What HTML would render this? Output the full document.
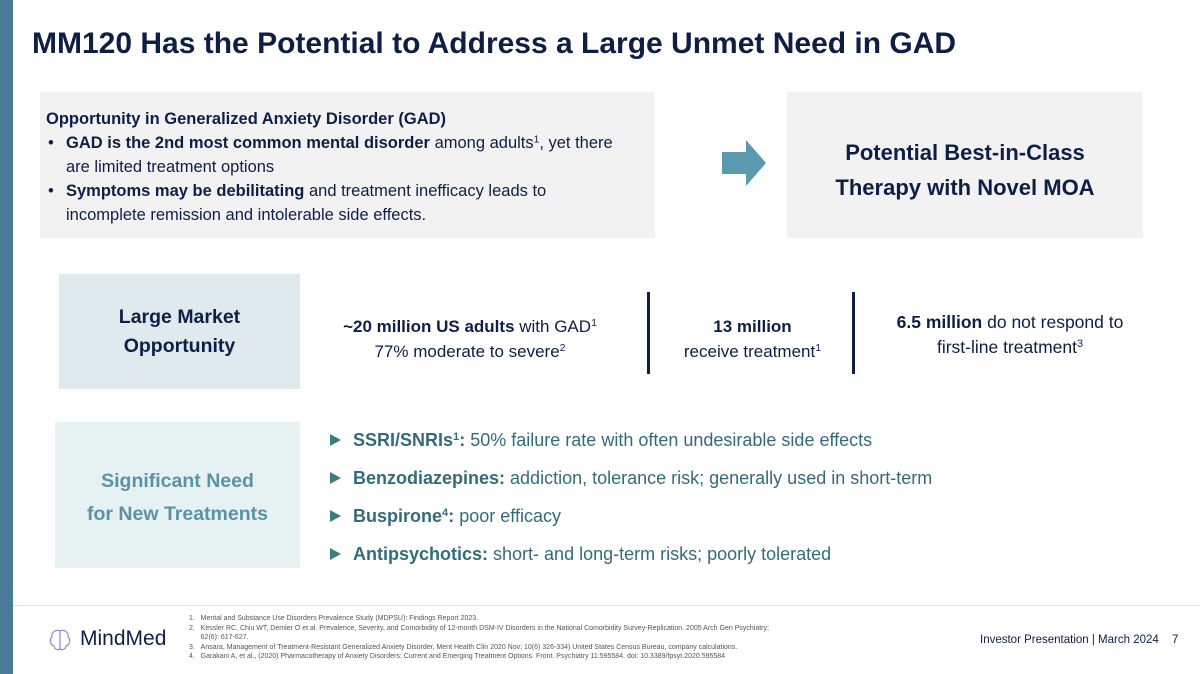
<!DOCTYPE html>
<html><head><meta charset="utf-8"><style>
*{margin:0;padding:0;box-sizing:border-box}
body{width:1200px;height:674px;position:relative;background:#fff;font-family:"Liberation Sans",sans-serif;overflow:hidden;color:#0d1f45}
.a{position:absolute}
sup{font-size:0.62em;vertical-align:0.55em;line-height:0}
.c{text-align:center}
.tri{display:inline-block;width:0;height:0;border-top:6px solid transparent;border-bottom:6px solid transparent;border-left:11px solid #3a7f80;margin-right:12px;vertical-align:0px}
</style></head><body>
<div class="a" style="left:0;top:0;width:13px;height:674px;background:#4a7a9a"></div>
<div class="a" style="left:32px;top:27px;font-size:30px;font-weight:bold;color:#0d1f45;white-space:nowrap">MM120 Has the Potential to Address a Large Unmet Need in GAD</div>

<div class="a" style="left:40px;top:92px;width:615px;height:146px;background:#f2f2f2"></div>
<div class="a" style="left:46px;top:107px;width:610px;font-size:16.5px;line-height:24px;color:#0d1f45;white-space:nowrap">
<div style="font-weight:bold">Opportunity in Generalized Anxiety Disorder (GAD)</div>
<div style="padding-left:20px;position:relative"><span class="a" style="left:2px">•</span><b>GAD is the 2nd most common mental disorder</b> among adults<sup>1</sup>, yet there<br>are limited treatment options</div>
<div style="padding-left:20px;position:relative"><span class="a" style="left:2px">•</span><b>Symptoms may be debilitating</b> and treatment inefficacy leads to<br>incomplete remission and intolerable side effects.</div>
</div>
<svg class="a" style="left:722px;top:140px" width="44" height="46"><polygon points="0,12 24,12 24,0 44,23 24,46 24,34 0,34" fill="#5b9aae"/></svg>
<div class="a" style="left:787px;top:92px;width:356px;height:146px;background:#f2f2f2"></div>
<div class="a c" style="left:787px;top:135px;width:356px;font-size:22px;line-height:35px;font-weight:bold;color:#0d1f45">Potential Best-in-Class<br>Therapy with Novel MOA</div>

<div class="a" style="left:59px;top:274px;width:241px;height:115px;background:#dfe9ee"></div>
<div class="a c" style="left:59px;top:303px;width:241px;font-size:19.5px;line-height:29px;font-weight:bold;color:#0d1f45">Large Market<br>Opportunity</div>
<div class="a c" style="left:300px;top:314px;width:340px;font-size:17px;line-height:25px"><b>~20 million US adults</b> with GAD<sup>1</sup><br>77% moderate to severe<sup>2</sup></div>
<div class="a" style="left:647px;top:292px;width:3px;height:82px;background:#0d1f45"></div>
<div class="a c" style="left:650px;top:314px;width:205px;font-size:17px;line-height:25px"><b>13 million</b><br>receive treatment<sup>1</sup></div>
<div class="a" style="left:852px;top:292px;width:3px;height:82px;background:#0d1f45"></div>
<div class="a c" style="left:860px;top:310px;width:300px;font-size:17.5px;line-height:25px"><b>6.5 million</b> do not respond to<br>first-line treatment<sup>3</sup></div>

<div class="a" style="left:55px;top:422px;width:245px;height:146px;background:#e6f2f2"></div>
<div class="a c" style="left:55px;top:465px;width:245px;font-size:19.5px;line-height:33px;font-weight:bold;color:#5b92a6">Significant Need<br>for New Treatments</div>
<div class="a" style="left:330px;top:421px;font-size:18px;line-height:38px;color:#336b7c;white-space:nowrap">
<div><span class="tri"></span><b>SSRI/SNRIs<sup>1</sup>:</b> 50% failure rate with often undesirable side effects</div>
<div><span class="tri"></span><b>Benzodiazepines:</b> addiction, tolerance risk; generally used in short-term</div>
<div><span class="tri"></span><b>Buspirone<sup>4</sup>:</b> poor efficacy</div>
<div><span class="tri"></span><b>Antipsychotics:</b> short- and long-term risks; poorly tolerated</div>
</div>

<div class="a" style="left:13px;top:605px;width:1187px;height:1px;background:#dde0ea"></div>
<svg class="a" style="left:48px;top:628px" width="24" height="24" viewBox="0 0 24 24"><path d="M12 3C8 1 3 4 4 9C1 11 2 17 6 18C7 22 11 23 12 20C13 23 17 22 18 18C22 17 23 11 20 9C21 4 16 1 12 3Z M12 3V20" fill="none" stroke="#9b8fd6" stroke-width="1.3"/></svg>
<div class="a" style="left:80px;top:627px;font-size:21px;color:#0d1f45">MindMed</div>
<div class="a" style="left:189px;top:614px;font-size:7px;line-height:9.5px;color:#555;width:700px;white-space:nowrap">
<div>1.&nbsp;&nbsp;&nbsp;Mental and Substance Use Disorders Prevalence Study (MDPSU): Findings Report 2023.</div>
<div>2.&nbsp;&nbsp;&nbsp;Kessler RC, Chiu WT, Demler O et al. Prevalence, Severity, and Comorbidity of 12-month DSM-IV Disorders in the National Comorbidity Survey-Replication. 2005 Arch Gen Psychiatry;<br>&nbsp;&nbsp;&nbsp;&nbsp;&nbsp;&nbsp;62(6): 617-627.</div>
<div>3.&nbsp;&nbsp;&nbsp;Ansara, Management of Treatment-Resistant Generalized Anxiety Disorder, Ment Health Clin 2020 Nov; 10(6) 326-334) United States Census Bureau, company calculations.</div>
<div>4.&nbsp;&nbsp;&nbsp;Garakani A, et al., (2020) Pharmacotherapy of Anxiety Disorders: Current and Emerging Treatment Options. Front. Psychiatry 11:595584. doi: 10.3389/fpsyt.2020.595584</div>
</div>
<div class="a" style="left:980px;top:634px;font-size:11.5px;color:#0d1f45">Investor Presentation | March 2024</div>
<div class="a" style="left:1172px;top:634px;font-size:11.5px;color:#0d1f45">7</div>
</body></html>
